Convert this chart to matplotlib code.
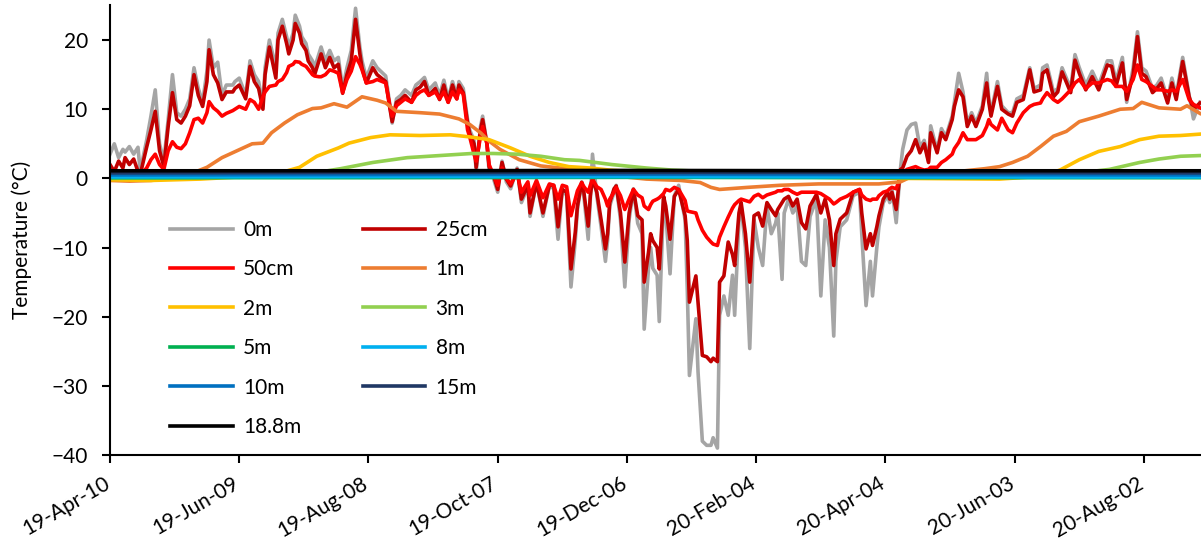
import pandas as pd
import matplotlib
matplotlib.use("Agg")
import matplotlib.pyplot as plt
import matplotlib.dates as mdates
from matplotlib.transforms import ScaledTranslation

plt.rcParams['font.family'] = ['Lato', 'DejaVu Sans']

# logger start date; all sample positions are day offsets from here
start = pd.Timestamp("2019-04-10")

# ---- near-surface sensors (same sample days for all three) ----
surf_days = [0, 2, 4, 6, 7, 9, 11, 13, 14, 17,
             19, 21, 23, 25, 27, 29, 31, 33, 35, 37,
             39, 41, 43, 45, 46, 48, 50, 52, 54, 57,
             58, 60, 63, 65, 67, 69, 71, 72, 74, 77,
             78, 80, 82, 83, 85, 86, 88, 89, 91, 92,
             94, 95, 97, 98, 100, 102, 104, 106, 108, 110,
             112, 114, 116, 117, 119, 122, 124, 128, 130, 131,
             133, 135, 137, 140, 142, 144, 146, 148, 151, 153,
             155, 157, 159, 161, 162, 164, 166, 167, 169, 170,
             172, 173, 175, 176, 178, 180, 182, 184, 186, 189,
             191, 194, 195, 198, 201, 204, 206, 208, 210, 212,
             214, 216, 217, 219, 220, 222, 223, 224, 226, 228,
             230, 231, 232, 234, 235, 237, 239, 241, 243, 245,
             247, 248, 250, 251, 252, 254, 255, 257, 258, 260,
             262, 264, 267, 268, 269, 272, 273, 275, 277, 279,
             280, 282, 283, 285, 287, 289, 290, 292, 293, 295,
             297, 299, 301, 303, 305, 307, 309, 310, 312, 313,
             315, 317, 319, 321, 323, 325, 328, 330, 332, 334,
             336, 337, 339, 342, 345, 348, 349, 351, 353, 354,
             356, 357, 359, 361, 362, 363, 365, 367, 368, 370,
             372, 374, 376, 378, 380, 381, 384, 386, 388, 391,
             392, 394, 396, 398, 400, 402, 405, 407, 408, 409,
             412, 414, 417, 419, 421, 424, 427, 429, 432, 433,
             435, 438, 440, 442, 446, 448, 450, 453, 456, 459,
             463, 465, 467, 470, 472, 475, 477, 479, 481, 484,
             486, 488, 491, 493, 495, 498, 501, 503, 506]

t_0m = [3.5, 5.0, 3.0, 4.2, 3.8, 4.6, 3.5, 4.5, 1.0, 5.5,
        9.0, 12.8, 5.0, 2.5, 8.5, 15.0, 9.5, 9.0, 10.0, 11.5,
        16.0, 13.0, 11.0, 15.5, 20.0, 16.0, 16.8, 12.0, 13.5, 13.5,
        14.0, 14.5, 12.0, 17.0, 15.0, 14.0, 10.5, 16.0, 20.0, 16.0,
        21.0, 23.0, 20.5, 19.0, 21.0, 23.6, 22.0, 20.5, 19.5, 18.0,
        17.0, 16.0, 18.0, 19.0, 17.0, 18.5, 17.0, 17.5, 13.0, 16.0,
        18.5, 24.6, 19.0, 17.0, 14.5, 17.0, 16.0, 14.8, 10.5, 8.0,
        11.5, 12.0, 12.8, 12.0, 13.5, 14.0, 14.6, 12.8, 13.8, 12.0,
        14.2, 11.5, 14.0, 12.0, 14.0, 13.0, 8.5, 7.0, 5.5, 1.0,
        7.5, 9.0, 5.0, 1.0, 0.0, -2.0, 2.5, -0.5, -1.5, 1.5,
        -3.5, -1.2, -5.5, -0.5, -5.5, -1.0, -1.5, -8.8, -1.5, -2.5,
        -15.7, -9.0, -4.5, -0.5, -2.5, -8.8, -3.0, 3.5, -2.5, -7.0,
        -12.0, -9.0, -4.0, -2.0, -1.0, -6.0, -15.7, -6.0, -1.5, -6.5,
        -8.0, -21.8, -13.0, -10.0, -13.0, -14.0, -20.7, -3.0, -5.0, -13.8,
        -2.5, -1.0, -6.0, -16.0, -28.5, -20.3, -28.0, -38.0, -38.6, -38.6,
        -37.5, -39.0, -19.8, -17.0, -19.8, -14.0, -19.8, -6.0, -4.0, -10.0,
        -24.6, -6.0, -10.0, -12.6, -4.0, -8.0, -6.5, -5.0, -14.6, -5.0,
        -3.0, -5.0, -4.0, -12.0, -12.6, -5.5, -3.0, -17.0, -6.0, -10.0,
        -22.8, -12.0, -7.0, -6.0, -2.5, -2.0, -8.0, -18.4, -12.0, -17.0,
        -10.0, -7.0, -3.5, -2.5, -3.5, -1.5, -6.4, 1.5, 4.2, 7.0,
        7.8, 8.0, 4.5, 5.5, 2.5, 7.6, 4.0, 7.2, 6.0, 9.0,
        11.0, 15.2, 12.5, 8.0, 9.5, 8.0, 10.5, 15.2, 11.5, 9.5,
        14.0, 10.5, 9.5, 9.5, 11.5, 12.0, 16.0, 13.0, 13.5, 16.0,
        16.4, 12.5, 13.0, 16.0, 13.0, 17.9, 16.0, 13.5, 15.5, 13.5,
        17.0, 17.0, 14.0, 17.5, 11.0, 16.0, 21.2, 16.0, 15.5, 13.0,
        13.5, 14.5, 11.5, 14.5, 12.0, 17.5, 12.0, 8.6, 11.0]

t_25cm = [2.0, 1.0, 2.5, 1.5, 3.0, 2.0, 2.8, 1.0, 0.5, 4.5,
          7.0, 9.7, 4.0, 1.7, 7.5, 12.4, 8.5, 8.0, 9.0, 10.5,
          15.0, 12.0, 10.4, 14.0, 18.6, 15.0, 13.8, 11.4, 12.5, 12.5,
          13.0, 13.5, 11.5, 16.2, 14.0, 13.0, 10.0, 15.0, 19.0, 14.5,
          20.0, 22.0, 19.5, 18.0, 20.0, 22.4, 21.0, 19.5, 18.5, 17.0,
          16.0, 15.0, 17.0, 18.0, 16.0, 17.5, 16.0, 16.5, 12.3, 15.0,
          17.0, 23.0, 18.0, 16.0, 13.8, 16.0, 15.0, 14.0, 10.0, 8.2,
          11.0, 11.4, 12.0, 11.0, 12.8, 13.2, 14.0, 12.0, 13.0, 11.4,
          13.5, 11.0, 13.5, 11.5, 13.5, 12.4, 8.0, 6.5, 5.0, 1.6,
          7.0, 8.5, 5.0, 1.7, 0.5, -1.6, 2.3, -0.1, -1.1, 1.3,
          -3.0, -1.0, -5.0, -0.6, -5.0, -1.0, -1.0, -7.0, -1.6, -2.0,
          -13.1, -7.8, -4.0, -0.6, -2.0, -6.9, -2.5, -0.1, -2.0, -6.0,
          -10.2, -8.0, -3.5, -1.5, -1.1, -5.0, -12.1, -5.0, -1.6, -5.4,
          -6.0, -15.0, -10.7, -8.0, -9.0, -10.0, -13.1, -2.6, -4.0, -8.8,
          -2.6, -1.6, -5.4, -9.0, -17.9, -14.1, -18.0, -25.6, -25.8, -26.5,
          -26.0, -26.5, -15.0, -14.1, -9.2, -11.0, -12.6, -5.0, -3.5, -8.0,
          -15.0, -5.4, -5.0, -6.9, -3.5, -4.5, -5.4, -4.5, -3.5, -3.0,
          -2.6, -4.0, -3.0, -6.4, -7.3, -4.0, -2.3, -5.0, -3.0, -6.0,
          -12.6, -8.0, -5.9, -5.0, -2.0, -1.6, -5.0, -10.2, -8.0, -9.7,
          -7.0, -5.4, -3.0, -2.0, -3.0, -2.0, -4.5, 1.3, 1.5, 3.2,
          4.0, 5.6, 3.7, 5.0, 2.3, 6.6, 3.7, 6.6, 5.6, 8.5,
          10.4, 12.8, 11.8, 7.5, 9.0, 7.5, 10.0, 13.8, 11.0, 9.0,
          13.3, 10.0, 9.3, 9.0, 11.0, 11.4, 15.7, 12.5, 12.8, 15.2,
          15.7, 11.8, 12.5, 15.4, 12.4, 17.1, 15.2, 12.8, 14.7, 12.8,
          16.4, 16.2, 13.3, 16.7, 11.4, 15.0, 20.5, 15.2, 14.7, 12.4,
          13.0, 13.8, 10.9, 13.8, 11.4, 16.9, 11.8, 10.0, 10.9]

t_50cm = [0.5, 0.4, 0.6, 0.5, 0.7, 0.8, 0.8, 0.7, 0.5, 1.5,
          2.7, 3.5, 2.0, 1.3, 4.0, 5.3, 4.5, 4.3, 5.0, 6.6,
          8.5, 8.7, 8.0, 9.5, 11.1, 10.2, 9.7, 9.0, 9.4, 9.8,
          10.0, 10.4, 10.0, 11.4, 11.0, 10.0, 11.8, 12.5, 13.3, 13.5,
          14.0, 14.3, 15.3, 16.2, 16.5, 16.9, 16.8, 16.5, 16.2, 15.8,
          15.0, 14.8, 14.7, 14.7, 15.0, 15.7, 15.5, 15.2, 12.4, 14.3,
          15.5, 17.6, 16.5, 15.7, 13.8, 14.0, 14.3, 13.8, 10.4, 9.0,
          10.5, 11.0, 11.5, 11.0, 12.0, 12.5, 12.8, 12.0, 12.5, 11.5,
          12.5, 11.0, 12.5, 11.5, 12.8, 12.2, 7.0, 6.0, 3.5, 2.5,
          6.0, 7.5, 5.0, 2.0, 0.5, -1.0, 1.5, 0.0, -0.8, 0.8,
          -2.0, -0.5, -2.5, -0.3, -2.8, -0.8, -1.0, -3.0, -1.0, -1.2,
          -5.4, -3.0, -1.8, -0.6, -1.2, -2.0, -1.0, -0.1, -1.2, -1.6,
          -3.0, -4.0, -3.0, -2.0, -1.3, -2.5, -4.5, -3.0, -1.6, -2.4,
          -2.8, -4.0, -4.5, -3.8, -3.3, -3.0, -2.8, -2.2, -1.6, -1.8,
          -1.3, -1.6, -3.2, -4.7, -4.8, -5.0, -6.0, -7.5, -8.5, -9.2,
          -9.5, -9.7, -8.5, -7.0, -5.6, -4.3, -3.8, -3.2, -3.0, -3.2,
          -3.4, -2.6, -2.3, -2.8, -2.4, -2.2, -2.0, -1.8, -1.8, -1.6,
          -1.6, -2.0, -2.3, -2.0, -2.0, -2.0, -2.0, -2.2, -2.6, -3.0,
          -3.7, -3.5, -3.0, -2.6, -2.0, -1.6, -2.4, -3.0, -3.2, -3.0,
          -3.0, -2.5, -2.0, -1.8, -1.5, -1.3, -1.5, 0.3, 0.8, 1.3,
          1.5, 1.7, 1.4, 1.2, 1.3, 1.6, 1.6, 2.3, 2.7, 3.5,
          4.3, 5.2, 6.6, 5.6, 5.6, 5.6, 6.2, 7.5, 8.5, 7.8,
          7.0, 8.7, 7.0, 6.6, 8.0, 9.5, 10.4, 10.7, 10.9, 11.5,
          12.4, 11.4, 11.0, 11.5, 12.8, 13.8, 14.3, 13.0, 13.8, 13.8,
          14.3, 14.1, 13.3, 13.3, 12.6, 14.3, 16.4, 14.3, 14.0, 13.3,
          12.8, 12.8, 12.6, 12.8, 12.6, 14.3, 11.4, 10.7, 10.2]

# ---- 1 m to 3 m, slow seasonal curves ----
days_1m = [0, 9, 19, 28, 37, 45, 52, 59, 66, 71, 75, 81, 87, 94, 98, 104,
           110, 117, 124, 128, 133, 144, 153, 162, 167, 172, 176, 181, 190,
           200, 212, 224, 233, 249, 265, 274, 279, 283, 296, 311, 329, 348,
           357, 367, 371, 380, 394, 406, 413, 419, 426, 432, 438, 444, 450,
           459, 469, 475, 479, 487, 497, 500, 506]
t_1m = [-0.3, -0.4, -0.3, 0.0, 0.6, 1.6, 3.0, 4.0, 5.0, 5.1, 6.6, 8.0, 9.2,
        10.1, 10.2, 10.8, 10.3, 11.8, 11.3, 10.9, 9.7, 9.5, 9.3, 8.6, 7.8,
        6.6, 5.4, 4.2, 2.7, 1.8, 1.4, 1.0, 0.4, -0.1, -0.3, -0.6, -1.3,
        -1.6, -1.3, -1.0, -0.8, -0.8, -0.8, -0.5, 0.1, 0.5, 1.0, 1.4, 1.7,
        2.3, 3.2, 4.6, 6.1, 6.8, 8.2, 9.0, 10.0, 10.1, 11.0, 10.2, 10.0,
        10.5, 9.4]

days_2m = [0, 19, 42, 65, 79, 88, 96, 106, 111, 121, 130, 144, 158, 167,
           176, 186, 195, 204, 213, 223, 232, 251, 274, 320, 367, 413, 432,
           441, 450, 459, 469, 478, 487, 497, 506]
t_2m = [-0.2, -0.3, -0.1, 0.3, 0.8, 1.6, 3.2, 4.4, 5.1, 5.9, 6.3, 6.2, 6.3,
        6.0, 5.6, 4.4, 3.2, 2.3, 1.7, 1.5, 1.2, 0.8, 0.5, 0.2, 0.0, -0.1,
        0.3, 1.2, 2.7, 3.9, 4.6, 5.6, 6.1, 6.2, 6.4]

days_3m = [0, 42, 79, 97, 107, 122, 138, 153, 168, 178, 189, 200, 211, 218,
           233, 249, 261, 283, 320, 367, 413, 450, 464, 478, 487, 497, 506]
t_3m = [0.0, 0.1, 0.4, 0.9, 1.4, 2.3, 3.0, 3.3, 3.6, 3.6, 3.5, 3.2, 2.7, 2.6,
        2.0, 1.5, 1.2, 0.9, 0.6, 0.4, 0.4, 0.8, 1.3, 2.3, 2.8, 3.2, 3.3]

# ---- deep sensors, almost constant ----
days_deep = [0, 120, 240, 360, 506]
t_5m = [0.1, 0.1, 0.15, 0.1, 0.1]
t_8m = [0.2, 0.25, 0.25, 0.2, 0.2]
t_10m = [0.5, 0.55, 0.6, 0.55, 0.5]
t_15m = [0.8, 0.85, 0.85, 0.85, 0.8]
t_18m = [1.1, 1.1, 1.15, 1.1, 1.1]

series = [
    ("0m", surf_days, t_0m, "#A5A5A5"),
    ("25cm", surf_days, t_25cm, "#C00000"),
    ("50cm", surf_days, t_50cm, "#FF0000"),
    ("1m", days_1m, t_1m, "#ED7D31"),
    ("2m", days_2m, t_2m, "#FFC000"),
    ("3m", days_3m, t_3m, "#92D050"),
    ("5m", days_deep, t_5m, "#00B050"),
    ("8m", days_deep, t_8m, "#00B0F0"),
    ("10m", days_deep, t_10m, "#0070C0"),
    ("15m", days_deep, t_15m, "#203864"),
    ("18.8m", days_deep, t_18m, "#000000"),
]

fig = plt.figure(figsize=(12.01, 5.40), dpi=100)
ax = fig.add_axes([110 / 1201, 85 / 540, 1091 / 1201, 449.5 / 540])

handles = []
for label, d, v, c in series:
    dates = start + pd.to_timedelta(d, unit="D")
    h, = ax.plot(dates, v, color=c, lw=2.6, label=label,
                 solid_joinstyle="round")
    handles.append(h)

ax.set_ylim(-40, 25)
ax.set_yticks(range(-40, 21, 10))
ax.set_xlim(start, start + pd.Timedelta(days=506.5))
ax.set_xticks(pd.date_range(start, periods=9, freq="60D"))
ax.xaxis.set_major_formatter(mdates.DateFormatter("%y-%b-%d"))

for s in ["top", "right"]:
    ax.spines[s].set_visible(False)
for s in ["left", "bottom"]:
    ax.spines[s].set_linewidth(1.5)
    ax.spines[s].set_color("black")

ax.tick_params(axis="both", direction="out", length=6, width=1.5,
               labelsize=15, colors="black")
ax.tick_params(axis="y", pad=10)
ax.tick_params(axis="x", pad=7)
shift = ScaledTranslation(-7 / 100, 0, fig.dpi_scale_trans)
for lbl in ax.get_xticklabels():
    lbl.set_rotation(30)
    lbl.set_ha("right")
    lbl.set_va("top")
    lbl.set_rotation_mode("anchor")
    lbl.set_transform(lbl.get_transform() + shift)

fig.text(22 / 1201, 1 - 240 / 540, "Temperature (°C)", rotation=90,
         ha="center", va="center", fontsize=15)

# two columns filled row by row
order = [0, 2, 4, 6, 8, 10, 1, 3, 5, 7, 9]
ax.legend([handles[i] for i in order], [series[i][0] for i in order],
          ncol=2, loc="upper left", bbox_to_anchor=(170 / 1201, 1 - 220 / 540),
          bbox_transform=fig.transFigure, frameon=False, fontsize=15,
          handlelength=3.0, handletextpad=0.5, columnspacing=2.95,
          labelspacing=0.93, borderpad=0, borderaxespad=0)

fig.savefig("out.png", dpi=100)
